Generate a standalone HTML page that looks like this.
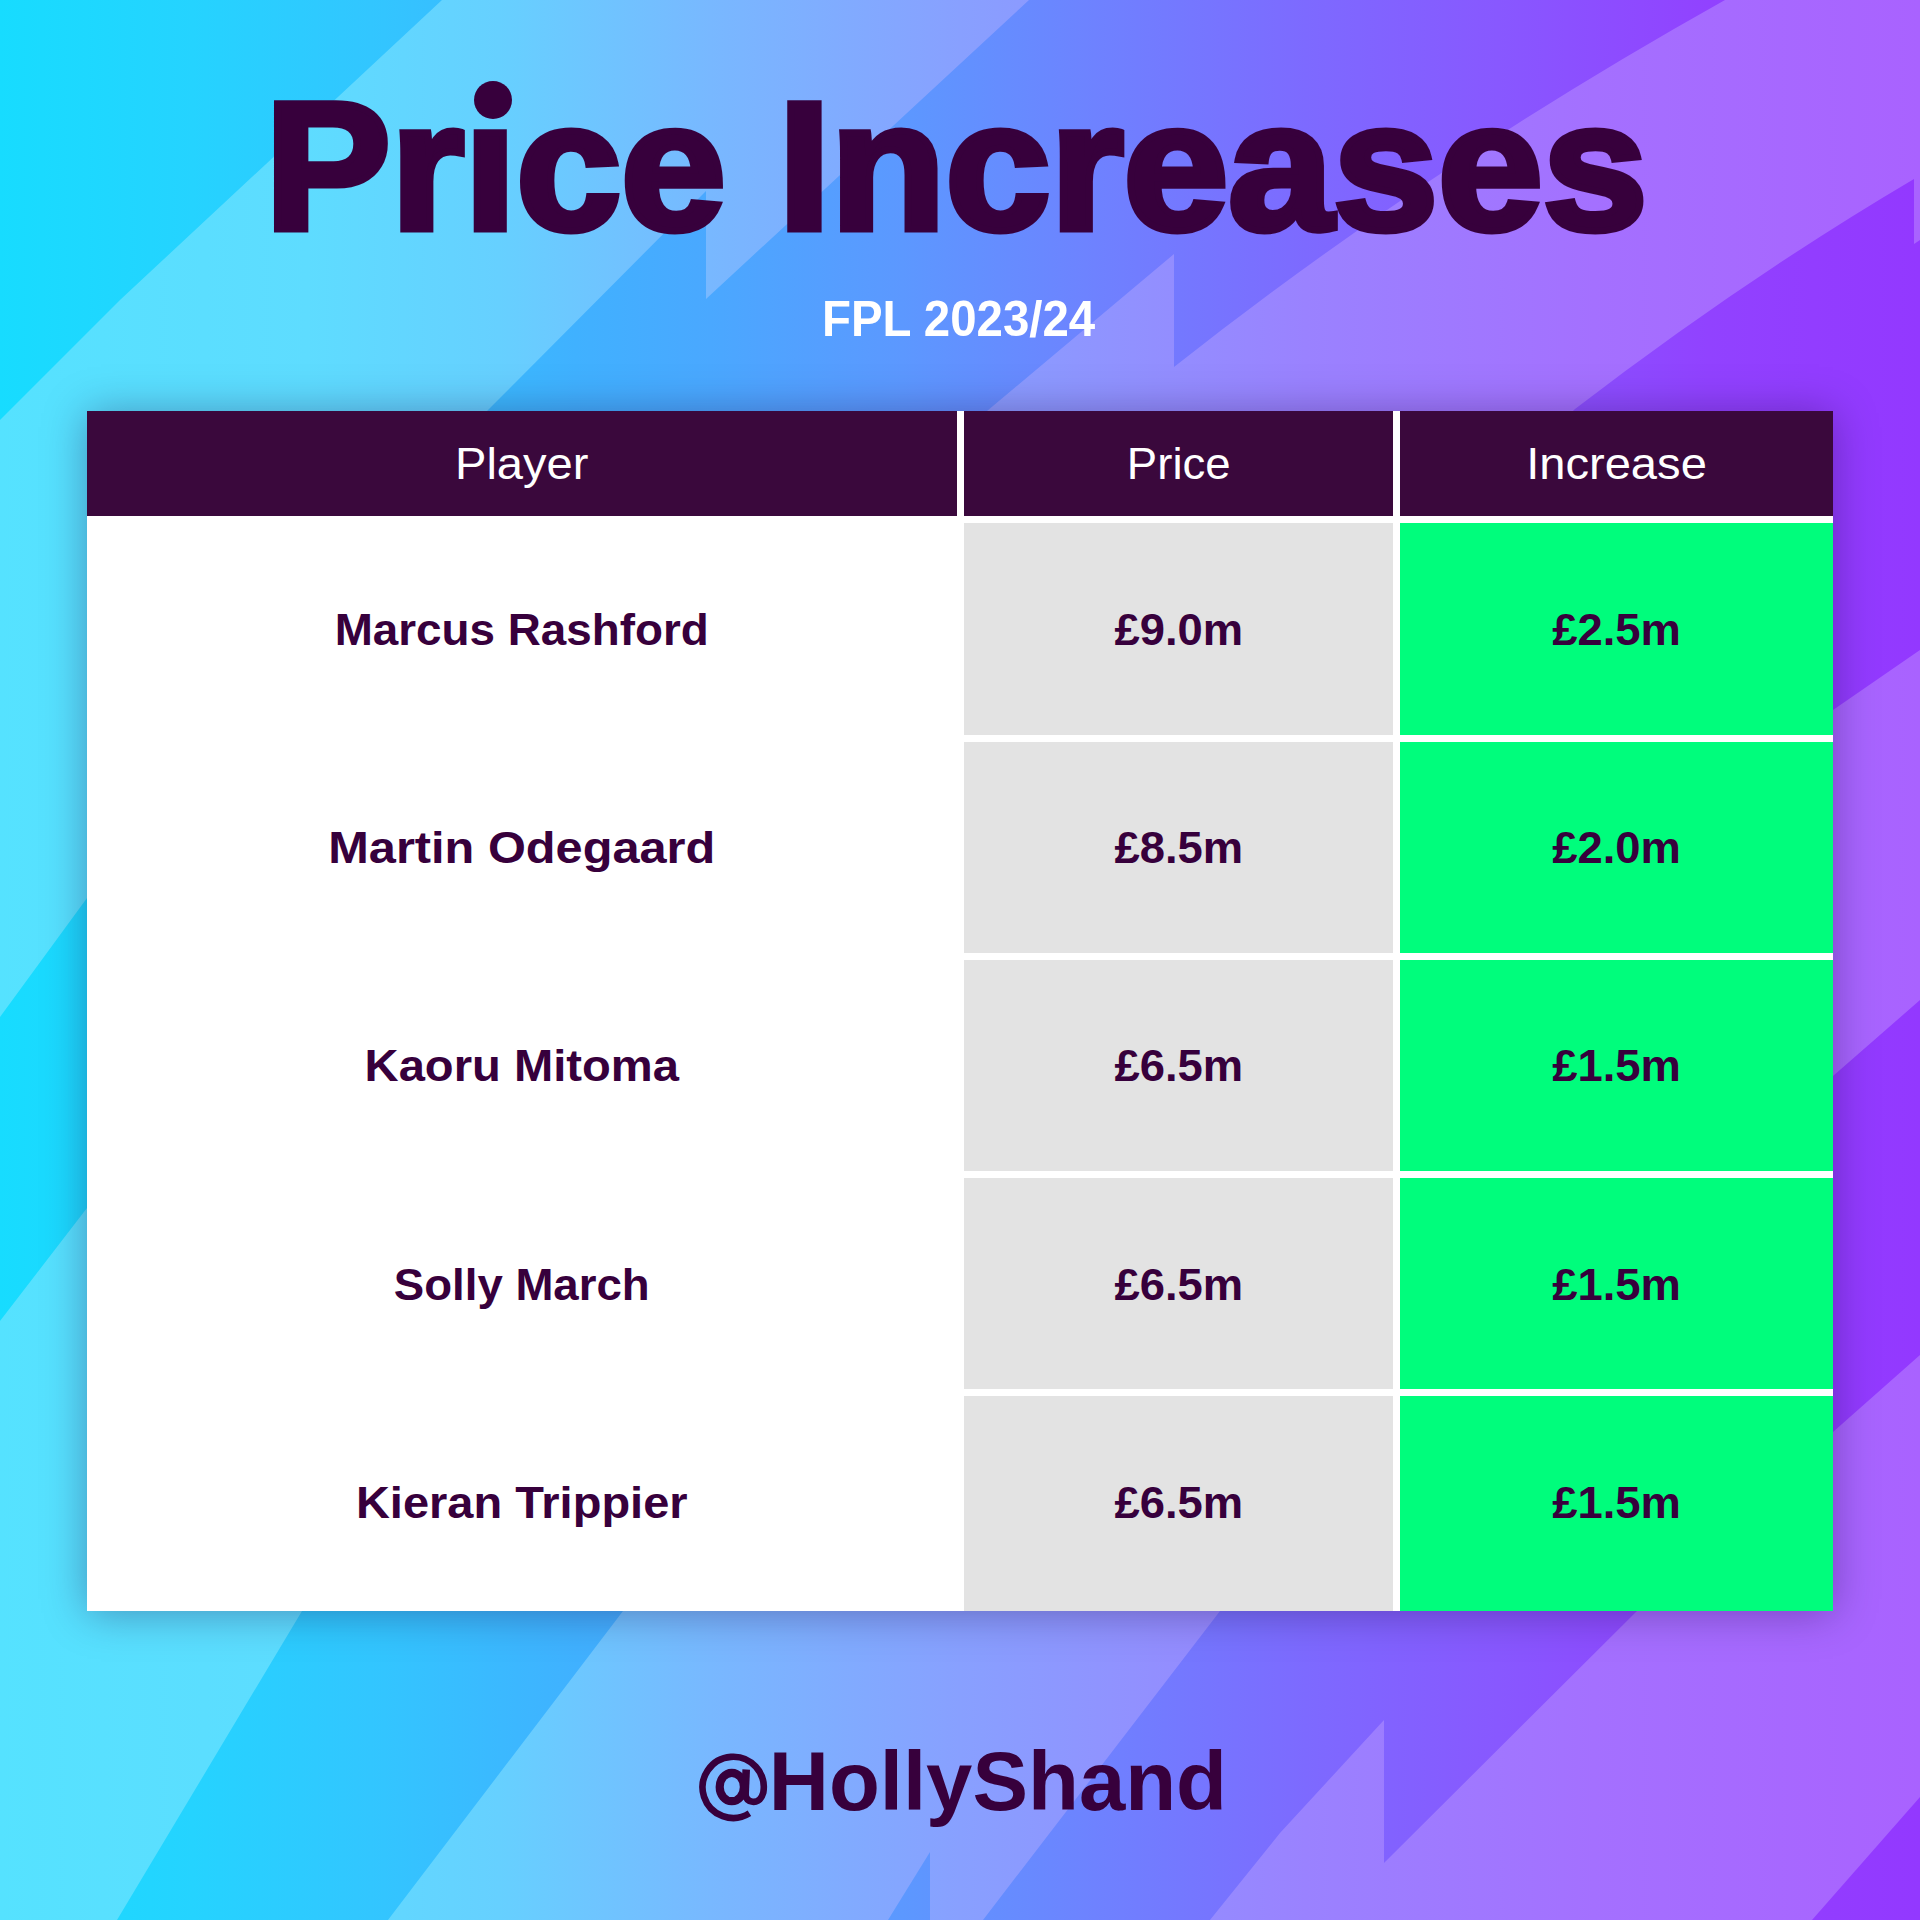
<!DOCTYPE html>
<html>
<head>
<meta charset="utf-8">
<style>
html,body{margin:0;padding:0;}
body{width:1920px;height:1920px;position:relative;overflow:hidden;font-family:"Liberation Sans",sans-serif;}
#bg{position:absolute;left:0;top:0;width:1920px;height:1920px;}
.t{position:absolute;white-space:nowrap;line-height:1;}
#title{color:#37003c;font-weight:bold;}
#sub{color:#fff;font-weight:bold;}
#handle{color:#37003c;font-weight:bold;}
#table{position:absolute;left:87px;top:411px;width:1746px;height:1200px;background:#fff;box-shadow:0 2px 40px rgba(30,0,60,0.35);}
.c{position:absolute;}
.h{background:#3a083c;top:0;height:105.4px;}
.g{background:#e3e3e3;}
.n{background:#00fd7c;}
.bt{position:absolute;white-space:nowrap;line-height:1;color:#37003c;font-weight:bold;font-size:44.5px;text-align:center;transform:scaleX(1.02);}
.ht{position:absolute;white-space:nowrap;line-height:1;color:#fff;font-size:45px;text-align:center;transform:scaleX(1.047);}
</style>
</head>
<body>
<svg id="bg" width="1920" height="1920" viewBox="0 0 1920 1920">
<defs>
<linearGradient id="lg" gradientUnits="userSpaceOnUse" x1="0" y1="0" x2="1920" y2="0">
<stop offset="0" stop-color="#55e2ff"/>
<stop offset="0.16" stop-color="#5edcff"/>
<stop offset="0.26" stop-color="#66d0ff"/>
<stop offset="0.37" stop-color="#78b8ff"/>
<stop offset="0.5" stop-color="#88a0ff"/>
<stop offset="0.68" stop-color="#9a82ff"/>
<stop offset="0.83" stop-color="#a470ff"/>
<stop offset="1" stop-color="#a962ff"/>
</linearGradient>
<linearGradient id="dg" gradientUnits="userSpaceOnUse" x1="0" y1="0" x2="1920" y2="0">
<stop offset="0" stop-color="#17dcff"/>
<stop offset="0.1" stop-color="#25d3ff"/>
<stop offset="0.2" stop-color="#33c5ff"/>
<stop offset="0.3" stop-color="#40b1ff"/>
<stop offset="0.37" stop-color="#4aa8ff"/>
<stop offset="0.47" stop-color="#5c98ff"/>
<stop offset="0.57" stop-color="#6e82ff"/>
<stop offset="0.68" stop-color="#7d6aff"/>
<stop offset="0.78" stop-color="#8858ff"/>
<stop offset="0.89" stop-color="#9142ff"/>
<stop offset="1" stop-color="#9338ff"/>
</linearGradient>
</defs>
<rect x="0" y="0" width="1920" height="1920" fill="url(#lg)"/>
<g fill="url(#dg)">
<path d="M0,0 L442,0 L120,300 L0,420 Z"/>
<path d="M1029,0 L1725,0 Q1430,165 1174,367 L1174,254 L987,411 L87,1208 L0,1321 L0,1017 L87,898 L487,411 L706,191 L706,299 Z"/>
<path d="M1920,240 L1914,244 L1914,179 Q1743,280 1575,409 L302,1611 L117,1920 L388,1920 L623,1611 L1833,710 L1920,650 Z"/>
<path d="M1920,1000 L1833,1076 L1220,1611 L983,1920 L1210,1920 L1280,1833 L1384,1720 L1384,1863 L1637,1611 L1833,1432 L1920,1355 Z"/>
<path d="M888,1920 L930,1852 L930,1920 Z"/>
<path d="M1920,1797 L1812,1920 L1920,1920 Z"/>
</g>
</svg>

<div id="title" class="t" style="left:265px;top:75px;font-size:182px;-webkit-text-stroke:7px #37003c;transform:scaleX(1.035);transform-origin:0 0;">Pr&#305;ce Increases</div>
<div style="position:absolute;left:474px;top:80.5px;width:38px;height:38px;border-radius:50%;background:#37003c;"></div>
<div id="sub" class="t" style="left:821.5px;top:293.9px;font-size:50px;transform:scaleX(0.948);transform-origin:0 0;">FPL 2023/24</div>

<div id="table">
  <div class="c h" style="left:0;width:869.5px;"></div>
  <div class="c h" style="left:876.5px;width:429.5px;"></div>
  <div class="c h" style="left:1313px;width:433px;"></div>
  <div class="ht" style="left:0;width:869.5px;top:29.6px;">Player</div>
  <div class="ht" style="left:876.5px;width:429.5px;top:29.6px;transform:scaleX(1.012);">Price</div>
  <div class="ht" style="left:1313px;width:433px;top:29.6px;">Increase</div>
  <div class="c g" style="left:876.5px;top:112.2px;width:429.5px;height:211.7px;"></div>
  <div class="c n" style="left:1313.0px;top:112.2px;width:433.0px;height:211.7px;"></div>
  <div class="bt" style="left:0.0px;top:196.9px;width:869.5px;transform:scaleX(1.0295);">Marcus Rashford</div>
  <div class="bt" style="left:876.5px;top:196.9px;width:429.5px;">£9.0m</div>
  <div class="bt" style="left:1313.0px;top:196.9px;width:433.0px;">£2.5m</div>
  <div class="c g" style="left:876.5px;top:330.6px;width:429.5px;height:211.3px;"></div>
  <div class="c n" style="left:1313.0px;top:330.6px;width:433.0px;height:211.3px;"></div>
  <div class="bt" style="left:0.0px;top:415.3px;width:869.5px;transform:scaleX(1.0947);">Martin Odegaard</div>
  <div class="bt" style="left:876.5px;top:415.3px;width:429.5px;">£8.5m</div>
  <div class="bt" style="left:1313.0px;top:415.3px;width:433.0px;">£2.0m</div>
  <div class="c g" style="left:876.5px;top:548.7px;width:429.5px;height:211.3px;"></div>
  <div class="c n" style="left:1313.0px;top:548.7px;width:433.0px;height:211.3px;"></div>
  <div class="bt" style="left:0.0px;top:633.4px;width:869.5px;transform:scaleX(1.0595);">Kaoru Mitoma</div>
  <div class="bt" style="left:876.5px;top:633.4px;width:429.5px;">£6.5m</div>
  <div class="bt" style="left:1313.0px;top:633.4px;width:433.0px;">£1.5m</div>
  <div class="c g" style="left:876.5px;top:766.8px;width:429.5px;height:211.5px;"></div>
  <div class="c n" style="left:1313.0px;top:766.8px;width:433.0px;height:211.5px;"></div>
  <div class="bt" style="left:0.0px;top:851.5px;width:869.5px;transform:scaleX(1.024);">Solly March</div>
  <div class="bt" style="left:876.5px;top:851.5px;width:429.5px;">£6.5m</div>
  <div class="bt" style="left:1313.0px;top:851.5px;width:433.0px;">£1.5m</div>
  <div class="c g" style="left:876.5px;top:984.9px;width:429.5px;height:215.1px;"></div>
  <div class="c n" style="left:1313.0px;top:984.9px;width:433.0px;height:215.1px;"></div>
  <div class="bt" style="left:0.0px;top:1069.6px;width:869.5px;transform:scaleX(1.056);">Kieran Trippier</div>
  <div class="bt" style="left:876.5px;top:1069.6px;width:429.5px;">£6.5m</div>
  <div class="bt" style="left:1313.0px;top:1069.6px;width:433.0px;">£1.5m</div>
</div>

<svg style="position:absolute;left:0;top:0;" width="1920" height="1920" viewBox="0 0 1920 1920">
<g fill="none" stroke="#37003c">
<path d="M749.4,1813.3 A30.6,30.6 0 1 1 763.3,1792.6 Q760.5,1802.5 752.5,1801.8 Q746,1801 745.5,1794" stroke-width="6.6"/>
<ellipse cx="731.8" cy="1787" rx="12.1" ry="14.2" stroke-width="8.2"/>
<path d="M746.2,1769.5 L745,1797" stroke-width="7.6"/>
</g>
</svg>
<div id="handle" class="t" style="left:768.8px;top:1740.2px;font-size:83.3px;">HollyShand</div>
</body>
</html>
